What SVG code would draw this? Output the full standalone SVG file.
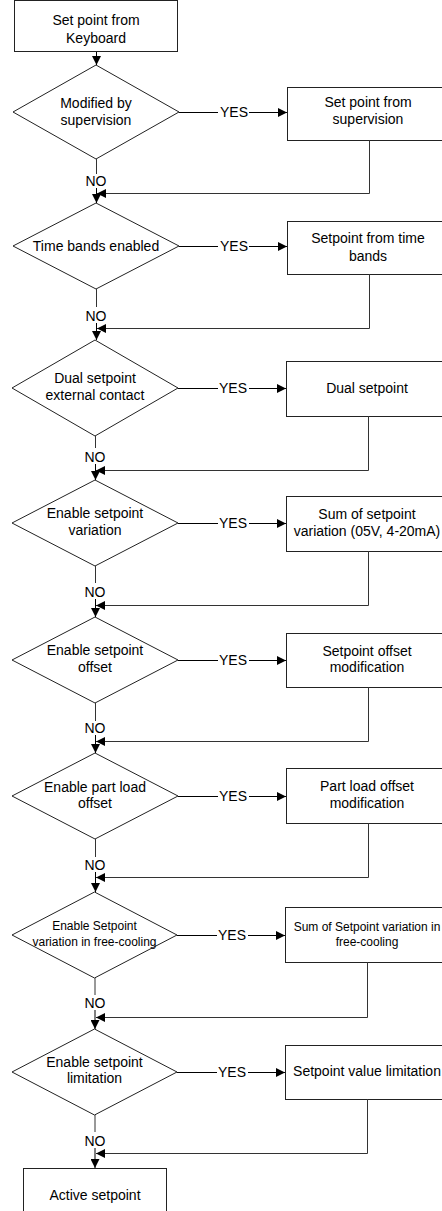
<svg xmlns="http://www.w3.org/2000/svg" width="442" height="1211" viewBox="0 0 442 1211">
<style>
text{font-family:"Liberation Sans",Arial,sans-serif;font-size:14px;text-anchor:middle;fill:#000}
.sm{font-size:12px}
.shape{fill:#fff;stroke:#222;stroke-width:1}
.ln{fill:none;stroke:#000;stroke-width:1}
.ret{fill:none;stroke:#333;stroke-width:1}
</style>
<defs>
<marker id="ah" markerUnits="userSpaceOnUse" markerWidth="10" markerHeight="9" refX="9" refY="4.5" orient="auto"><path d="M0,0 L9,4.5 L0,9 z" fill="#000"/></marker>
</defs>
<rect width="442" height="1211" fill="#fff"/>

<g id="n-keyboard"><rect class="shape" x="14.5" y="0.5" width="163" height="51"/><text x="96" y="25">Set point from</text><text x="96" y="43">Keyboard</text></g>

<g id="d1"><polygon class="shape" points="96,65 179,112 96,159 13,112"/><text x="96" y="108">Modified by</text><text x="96" y="125">supervision</text></g>
<g id="b1"><rect class="shape" x="287.5" y="87.5" width="162" height="53"/><text x="368" y="107">Set point from</text><text x="368" y="124">supervision</text></g>

<g id="d2"><polygon class="shape" points="96,203 179,246 96,289 13,246"/><text x="96" y="251">Time bands enabled</text></g>
<g id="b2"><rect class="shape" x="287.5" y="221.5" width="162" height="53"/><text x="368" y="243">Setpoint from time</text><text x="368" y="261">bands</text></g>

<g id="d3"><polygon class="shape" points="95,340 178,388 95,436 12,388"/><text x="95" y="383">Dual setpoint</text><text x="95" y="400">external contact</text></g>
<g id="b3"><rect class="shape" x="286.5" y="361.5" width="162" height="55"/><text x="367" y="393">Dual setpoint</text></g>

<g id="d4"><polygon class="shape" points="95,480 178,523 95,566 12,523"/><text x="95" y="518">Enable setpoint</text><text x="95" y="535">variation</text></g>
<g id="b4"><rect class="shape" x="286.5" y="496.5" width="162" height="55"/><text x="367" y="519">Sum of setpoint</text><text x="367" y="536">variation (05V, 4-20mA)</text></g>

<g id="d5"><polygon class="shape" points="95,617 178,660 95,703 12,660"/><text x="95" y="655">Enable setpoint</text><text x="95" y="672">offset</text></g>
<g id="b5"><rect class="shape" x="286.5" y="633.5" width="162" height="54"/><text x="367" y="656">Setpoint offset</text><text x="367" y="672">modification</text></g>

<g id="d6"><polygon class="shape" points="95,753 178,796 95,839 12,796"/><text x="95" y="792">Enable part load</text><text x="95" y="808">offset</text></g>
<g id="b6"><rect class="shape" x="286.5" y="768.5" width="162" height="55"/><text x="367" y="791">Part load offset</text><text x="367" y="808">modification</text></g>

<g id="d7"><polygon class="shape" points="94.5,892 177,935 94.5,978 12,935"/><text class="sm" x="94.5" y="930">Enable Setpoint</text><text class="sm" x="94.5" y="946">variation in free-cooling</text></g>
<g id="b7"><rect class="shape" x="285.5" y="907.5" width="162" height="55"/><text class="sm" x="367" y="931">Sum of Setpoint variation in</text><text class="sm" x="367" y="946">free-cooling</text></g>

<g id="d8"><polygon class="shape" points="94.5,1029 177,1072 94.5,1115 12,1072"/><text x="94.5" y="1067">Enable setpoint</text><text x="94.5" y="1083">limitation</text></g>
<g id="b8"><rect class="shape" x="285.5" y="1045.5" width="162" height="54"/><text x="367" y="1076">Setpoint value limitation</text></g>

<g id="n-active"><rect class="shape" x="23.5" y="1168.5" width="143" height="52"/><text x="95" y="1200">Active setpoint</text></g>

<g id="connectors">
<line class="ln" x1="96.5" y1="52" x2="96.5" y2="65" marker-end="url(#ah)"/>

<line class="ln" x1="179" y1="112.5" x2="218" y2="112.5"/><text x="234" y="117">YES</text><line class="ln" x1="249" y1="112.5" x2="287" y2="112.5" marker-end="url(#ah)"/>
<line class="ret" x1="96.5" y1="159" x2="96.5" y2="174"/><text x="96" y="186">NO</text><line class="ln" x1="96.5" y1="188" x2="96.5" y2="203" marker-end="url(#ah)"/>
<polyline class="ret" points="369.5,140 369.5,193.5 97,193.5" marker-end="url(#ah)"/>

<line class="ln" x1="179" y1="246.5" x2="218" y2="246.5"/><text x="234" y="251">YES</text><line class="ln" x1="249" y1="246.5" x2="287" y2="246.5" marker-end="url(#ah)"/>
<line class="ret" x1="96.5" y1="289" x2="96.5" y2="307"/><text x="96" y="321">NO</text><line class="ln" x1="96.5" y1="323" x2="96.5" y2="340" marker-end="url(#ah)"/>
<polyline class="ret" points="369.5,274 369.5,328.5 97,328.5" marker-end="url(#ah)"/>

<line class="ln" x1="178" y1="388.5" x2="218" y2="388.5"/><text x="233" y="393">YES</text><line class="ln" x1="249" y1="388.5" x2="286" y2="388.5" marker-end="url(#ah)"/>
<line class="ret" x1="95.5" y1="436" x2="95.5" y2="448"/><text x="95" y="462">NO</text><line class="ln" x1="95.5" y1="464" x2="95.5" y2="480" marker-end="url(#ah)"/>
<polyline class="ret" points="368.5,416 368.5,470.5 96,470.5" marker-end="url(#ah)"/>

<line class="ln" x1="178" y1="523.5" x2="218" y2="523.5"/><text x="233" y="528">YES</text><line class="ln" x1="249" y1="523.5" x2="286" y2="523.5" marker-end="url(#ah)"/>
<line class="ret" x1="95.5" y1="566" x2="95.5" y2="583"/><text x="95" y="597">NO</text><line class="ln" x1="95.5" y1="599" x2="95.5" y2="617" marker-end="url(#ah)"/>
<polyline class="ret" points="368.5,551 368.5,605.5 96,605.5" marker-end="url(#ah)"/>

<line class="ln" x1="178" y1="660.5" x2="218" y2="660.5"/><text x="233" y="665">YES</text><line class="ln" x1="249" y1="660.5" x2="286" y2="660.5" marker-end="url(#ah)"/>
<line class="ret" x1="95.5" y1="703" x2="95.5" y2="721"/><text x="95" y="733">NO</text><line class="ln" x1="95.5" y1="735" x2="95.5" y2="753" marker-end="url(#ah)"/>
<polyline class="ret" points="368.5,687 368.5,741.5 96,741.5" marker-end="url(#ah)"/>

<line class="ln" x1="178" y1="796.5" x2="218" y2="796.5"/><text x="233" y="801">YES</text><line class="ln" x1="249" y1="796.5" x2="286" y2="796.5" marker-end="url(#ah)"/>
<line class="ret" x1="95.5" y1="839" x2="95.5" y2="857"/><text x="95" y="870">NO</text><line class="ln" x1="95.5" y1="872" x2="95.5" y2="892" marker-end="url(#ah)"/>
<polyline class="ret" points="368.5,823 368.5,877.5 96,877.5" marker-end="url(#ah)"/>

<line class="ln" x1="177" y1="935.5" x2="217" y2="935.5"/><text x="232" y="940">YES</text><line class="ln" x1="248" y1="935.5" x2="285" y2="935.5" marker-end="url(#ah)"/>
<line class="ret" x1="95" y1="978" x2="95" y2="995"/><text x="95" y="1008">NO</text><line class="ln" x1="95" y1="1010" x2="95" y2="1029" marker-end="url(#ah)"/>
<polyline class="ret" points="367.5,962 367.5,1017.5 96,1017.5" marker-end="url(#ah)"/>

<line class="ln" x1="177" y1="1072.5" x2="217" y2="1072.5"/><text x="232" y="1077">YES</text><line class="ln" x1="248" y1="1072.5" x2="285" y2="1072.5" marker-end="url(#ah)"/>
<line class="ret" x1="95" y1="1115" x2="95" y2="1132"/><text x="95" y="1146">NO</text><line class="ln" x1="95" y1="1148" x2="95" y2="1168" marker-end="url(#ah)"/>
<polyline class="ret" points="367.5,1099 367.5,1153.5 96,1153.5" marker-end="url(#ah)"/>
</g>
</svg>
